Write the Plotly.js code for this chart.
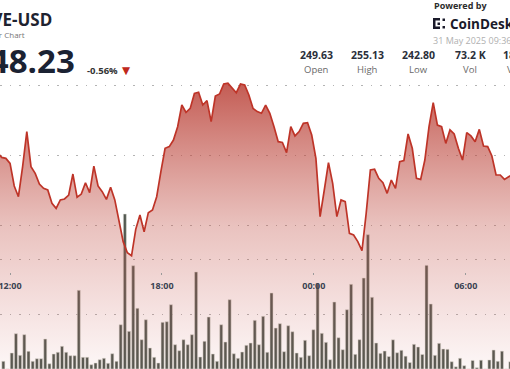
<!DOCTYPE html>
<html><head><meta charset="utf-8">
<script src="https://cdn.plot.ly/plotly-3.0.1.min.js"></script>
<style>html,body{margin:0;padding:0;background:#fff;} #chart{width:510px;height:369px;}</style>
</head><body><div id="chart"></div>
<script>
// ---- data ----
const priceValues = [
 250.17,249.83,249.76,249.40,247.79,247.02,249.17,251.67,249.17,248.69,
 247.93,247.62,247.50,246.55,246.19,246.79,246.86,247.14,248.64,246.98,
 247.21,248.02,247.31,249.21,247.79,247.38,246.83,247.69,246.79,245.36,
 243.81,243.02,242.80,244.69,245.71,244.52,245.88,246.07,247.02,248.81,
 250.48,250.60,251.07,252.02,253.57,253.05,253.33,254.40,254.48,253.57,
 253.88,252.38,254.21,254.36,255.07,255.13,254.76,254.45,255.07,255.00,
 254.29,253.33,253.10,252.98,253.57,252.98,252.02,250.95,250.90,250.17,
 252.02,251.36,251.67,252.26,252.31,251.43,249.76,245.60,247.50,249.45,
 247.98,245.60,246.79,246.67,244.40,244.29,243.81,243.17,245.83,248.93,
 248.98,248.33,248.02,247.26,248.21,247.62,249.52,249.60,251.50,250.48,
 248.33,248.26,249.64,252.02,253.74,252.14,252.02,250.83,251.79,251.50,
 250.48,249.64,251.60,251.36,250.95,251.83,250.64,250.60,249.93,248.57,
 248.57,248.26,248.45,248.62
];
const volumeValues = [
 140,0,291,642,249,624,322,140,187,187,
 545,96,273,304,413,304,242,242,1431,213,
 213,78,109,169,195,104,278,140,805,2818,
 685,1878,1104,533,896,382,213,109,849,860,
 1169,442,333,533,442,624,1764,218,504,945,
 273,140,805,491,1260,278,195,309,431,473,
 885,442,958,304,1382,745,824,315,787,678,
 291,213,522,242,714,1551,649,485,169,1218,
 569,351,1078,1540,267,533,1654,2442,1304,473,
 285,327,227,531,296,340,233,118,449,400,
 264,1885,1182,249,467,364,358,133,40,195,
 60,0,155,24,160,0,164,345,140,324,
 0,133
];
const tickLabels = ['12:00','18:00','00:00','06:00'];
const tickHours = [12, 18, 24, 30];
const priceGrid = [245, 250, 255];
const volumeGrid = [1000, 2000];
const statValues = ['249.63','255.13','242.80','73.2 K'];
const statLabels = ['Open','High','Low','Vol'];

// ---- time grid ----
const MIN = 60000;
const stepMs = 9.93 * MIN;
const dayStart = Date.UTC(2025, 4, 30, 0, 0, 0);
const noon = dayStart + 12 * 60 * MIN;
const priceTimes = priceValues.map((_, i) => noon + (i - 3) * stepMs);
const barTimes = volumeValues.map((_, j) => noon + (j - 2) * stepMs + 4 * MIN);
const tickVals = tickHours.map(h => dayStart + h * 60 * MIN);

const W = 510, H = 369;
const px = x => x / W, py = y => 1 - y / H;
const FONT = 'Open Sans, sans-serif';

function ann(text, x, y, size, color, weight, xanchor) {
  return {text: text, x: px(x), y: py(y), xref: 'paper', yref: 'paper',
    xanchor: xanchor, yanchor: 'middle', showarrow: false,
    font: {family: FONT, size: size, color: color, weight: weight}};
}
const annotations = [
  ann('AAVE-USD', 53.5, 20, 17, '#1e2330', 700, 'right'),
  ann('24 Hour Chart', 27, 34, 8, '#777777', 400, 'right'),
  ann('248.23', 77, 60, 33, '#1b2232', 700, 'right'),
  ann('-0.56%', 85, 70, 9.5, '#333333', 700, 'left'),
  {text: '▼', x: px(119.5), y: py(70), xref: 'paper', yref: 'paper', xanchor: 'left', yanchor: 'middle',
   showarrow: false, font: {family: 'DejaVu Sans', size: 10.5, color: '#c0281c'}},
  ann('Powered by', 431.5, 6, 9, '#2b2b2b', 700, 'left'),
  ann('CoinDesk', 447.5, 24, 13.5, '#1a1a2a', 700, 'left'),
  ann('31 May 2025 09:36', 430.5, 40, 9, '#b0b0b0', 400, 'left'),
  ann('18.15 M', 501, 55, 10.5, '#2a2f3a', 700, 'left'),
  ann('Vol USD', 504.5, 69, 9.5, '#6a6a6a', 400, 'left')
];
const statCenters = [316.7, 367.5, 418.3, 470];
statValues.forEach((v, i) => annotations.push(ann(v, statCenters[i], 55, 10.5, '#2a2f3a', 700, 'center')));
statLabels.forEach((v, i) => annotations.push(ann(v, statCenters[i], 69, 9.5, '#6a6a6a', 400, 'center')));

function rect(x0, y0, x1, y1) {
  return {type: 'rect', xref: 'paper', yref: 'paper', x0: px(x0), x1: px(x1), y0: py(y1), y1: py(y0),
    fillcolor: '#1a1a2a', line: {width: 0}, layer: 'above'};
}
const shapes = [
  rect(433, 18, 435.5, 29), rect(433, 18, 440, 20.5), rect(433, 26.5, 440, 29),
  rect(437.5, 22.5, 440, 25), rect(442.5, 18.5, 445, 21), rect(442.5, 26, 445, 28.5)
];

// ---- axes geometry ----
const priceTop = 255 + 85 / 14;
const priceBottom = priceTop - H / 14;
const volTop = H / 55 * 1000;
const gridStyle = {showgrid: true, gridcolor: '#b3b3b3', gridwidth: 1, griddash: '1.5px,8px',
  zeroline: false, showline: false, showticklabels: false, ticks: '', fixedrange: true};

const traces = [
  {type: 'bar', x: barTimes, y: volumeValues, xaxis: 'x', yaxis: 'y', width: 0.72 * stepMs,
   marker: {color: 'rgb(82,88,80)', line: {color: 'rgba(225,225,218,0.9)', width: 0.6}},
   hoverinfo: 'skip'},
  {type: 'scatter', mode: 'lines', x: priceTimes, y: priceValues, xaxis: 'x', yaxis: 'y2',
   line: {color: 'rgb(190,52,40)', width: 1.7},
   fill: 'tozeroy',
   fillgradient: {type: 'vertical', start: priceBottom, stop: 255.2,
     colorscale: [[0, 'rgba(205,95,90,0.05)'], [0.5, 'rgba(195,85,75,0.36)'], [1, 'rgba(182,55,45,0.82)']]},
   hoverinfo: 'skip'}
];

const layout = {
  width: W, height: H, margin: {l: 0, r: 0, t: 0, b: 0, pad: 0},
  paper_bgcolor: '#ffffff', plot_bgcolor: 'rgba(0,0,0,0)',
  showlegend: false, hovermode: false,
  xaxis: {type: 'date', range: [noon - 23.82 * MIN, noon + 1184.9 * MIN],
    tickvals: tickVals, ticktext: tickLabels, showgrid: false, zeroline: false, showline: false,
    ticks: 'inside', ticklen: 2, tickwidth: 1, tickcolor: '#9a9a9a',
    tickfont: {family: FONT, size: 9, color: '#3b4252', weight: 700},
    ticklabeloverflow: 'allow',
    anchor: 'free', position: 1 - 275 / H, ticklabelstandoff: 4, fixedrange: true},
  yaxis: Object.assign({range: [0, volTop], tickvals: volumeGrid}, gridStyle),
  yaxis2: Object.assign({range: [priceBottom, priceTop], tickvals: priceGrid, overlaying: 'y', side: 'right'}, gridStyle),
  annotations: annotations,
  shapes: shapes,
  bargap: 0
};

Plotly.newPlot('chart', traces, layout, {staticPlot: true, displayModeBar: false});
</script>
</body></html>
